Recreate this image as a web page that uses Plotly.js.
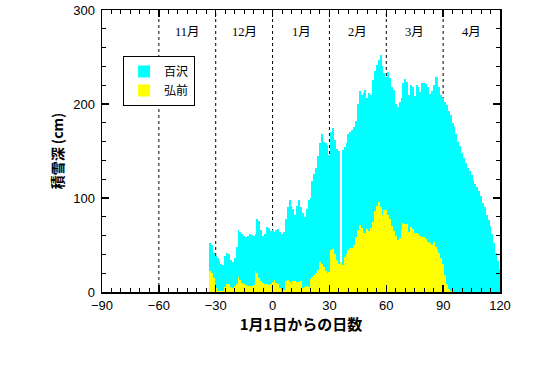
<!DOCTYPE html>
<html>
<head>
<meta charset="utf-8">
<script src="https://cdn.plot.ly/plotly-3.0.1.min.js"></script>
<style>html,body{margin:0;padding:0;background:#fff;}#chart{width:538px;height:368px;}</style>
</head>
<body>
<div id="chart"></div>
<script>
const days = [-33,-32,-31,-30,-29,-28,-27,-26,-25,-24,-23,-22,-21,-20,-19,-18,-17,-16,-15,-14,-13,-12,-11,-10,-9,-8,-7,-6,-5,-4,-3,-2,-1,0,1,2,3,4,5,6,7,8,9,10,11,12,13,14,15,16,17,18,19,20,21,22,23,24,25,26,27,28,29,30,31,32,33,34,35,36,37,38,39,40,41,42,43,44,45,46,47,48,49,50,51,52,53,54,55,56,57,58,59,60,61,62,63,64,65,66,67,68,69,70,71,72,73,74,75,76,77,78,79,80,81,82,83,84,85,86,87,88,89,90,91,92,93,94,95,96,97,98,99,100,101,102,103,104,105,106,107,108,109,110,111,112,113,114,115,116,117,118,119,120];

const hyakuzawa = [
52,50,42,38,36,33,30,29,38,42,
40,34,32,36,48,66,64,62,60,59,
60,62,61,60,62,78,76,66,60,62,
69,68,65,66,64,66,67,64,62,64,
78,90,98,92,88,82,92,98,90,84,
80,88,98,100,118,126,132,145,158,168,
160,158,156,146,170,174,162,152,150,0,
151,154,158,168,170,172,176,182,200,214,
210,212,215,206,212,210,226,235,242,247,
252,240,233,229,234,228,218,215,200,197,
202,206,222,227,223,210,220,218,208,220,
218,213,222,222,221,218,211,214,220,229,
229,218,210,206,202,199,193,188,180,176,
168,160,155,148,143,137,132,129,125,119,
115,112,107,102,95,90,82,77,70,62,
52,42,33,24];

const hirosaki = [
22,20,15,4,1,1,1,1,5,9,
9,5,4,6,9,16,13,10,8,7,
6,6,6,7,22,20,15,12,10,9,
8,7,8,11,13,10,8,4,2,2,
12,13,11,9,12,12,11,11,12,4,
5,6,5,14,16,18,20,23,32,30,
27,22,20,21,45,46,40,34,30,32,
29,37,40,45,47,47,50,58,66,71,
68,63,63,67,65,68,74,86,92,96,
90,82,87,87,82,78,70,65,60,55,
57,66,73,72,72,64,69,67,63,63,
62,60,59,59,56,53,52,50,53,48,
45,41,36,30,18,9,3,1,0];

const monthLabels = ['11月','12月','1月','2月','3月','4月'];
const monthCenters = [-45,-15,15,45,75,105];
const monthBounds = [-60,-30,0,30,60,90];
const seriesNames = ['百沢','弘前'];

const traces = [
  {type:'bar', x: days, y: hyakuzawa, name: seriesNames[0],
   marker:{color:'#00ffff', line:{width:0}}, width:1},
  {type:'bar', x: days.slice(0, hirosaki.length), y: hirosaki, name: seriesNames[1],
   marker:{color:'#ffff00', line:{width:0}}, width:1}
];

const shapes = monthBounds.map(b => ({
  type:'line', xref:'x', yref:'y', x0:b, x1:b, y0:0, y1:300,
  line:{color:'#000', width:1, dash:'dot'}, layer:'below'
}));

const annotations = monthLabels.map((t,i) => ({
  x: monthCenters[i], y: 277, xref:'x', yref:'y', text:t, showarrow:false,
  font:{family:'Liberation Serif, Noto Sans CJK JP, serif', size:12.5, color:'#000'}
}));

const axisCommon = {
  showgrid:false, zeroline:false, showline:true, linecolor:'#000', linewidth:1.5,
  mirror:'ticks', ticks:'inside', ticklen:7, tickwidth:1.5, tickcolor:'#000',
  tickfont:{family:'Liberation Sans, Arial, sans-serif', size:13, color:'#000'}
};

const layout = {
  width:538, height:368,
  margin:{l:102, r:38, t:10, b:76},
  paper_bgcolor:'#fff', plot_bgcolor:'#fff',
  barmode:'overlay', bargap:0,
  showlegend:true,
  legend:{x:0.053, y:0.837, xanchor:'left', yanchor:'top',
    bordercolor:'#000', borderwidth:1, bgcolor:'#fff',
    font:{family:'Noto Sans CJK JP, sans-serif', size:12, color:'#000'},
    tracegroupgap:0, itemwidth:30},
  xaxis: Object.assign({}, axisCommon, {
    range:[-90,120], tick0:-90, dtick:30, ticklabelstandoff:1,
    minor:{dtick:5, ticks:'inside', ticklen:4, tickwidth:1, tickcolor:'#000'},
    title:{text:'1月1日からの日数', standoff:3,
      font:{family:'Noto Sans CJK JP, sans-serif', size:15, color:'#000', weight:'bold'}}
  }),
  yaxis: Object.assign({}, axisCommon, {
    range:[0,300], tick0:0, dtick:100, ticklabelstandoff:3,
    minor:{dtick:20, ticks:'inside', ticklen:4, tickwidth:1, tickcolor:'#000'},
    title:{text:'積雪深 (cm)', standoff:6,
      font:{family:'Noto Sans CJK JP, sans-serif', size:14, color:'#000', weight:'bold'}}
  }),
  shapes: shapes,
  annotations: annotations
};

Plotly.newPlot('chart', traces, layout, {staticPlot:true, displayModeBar:false});
</script>
</body>
</html>
